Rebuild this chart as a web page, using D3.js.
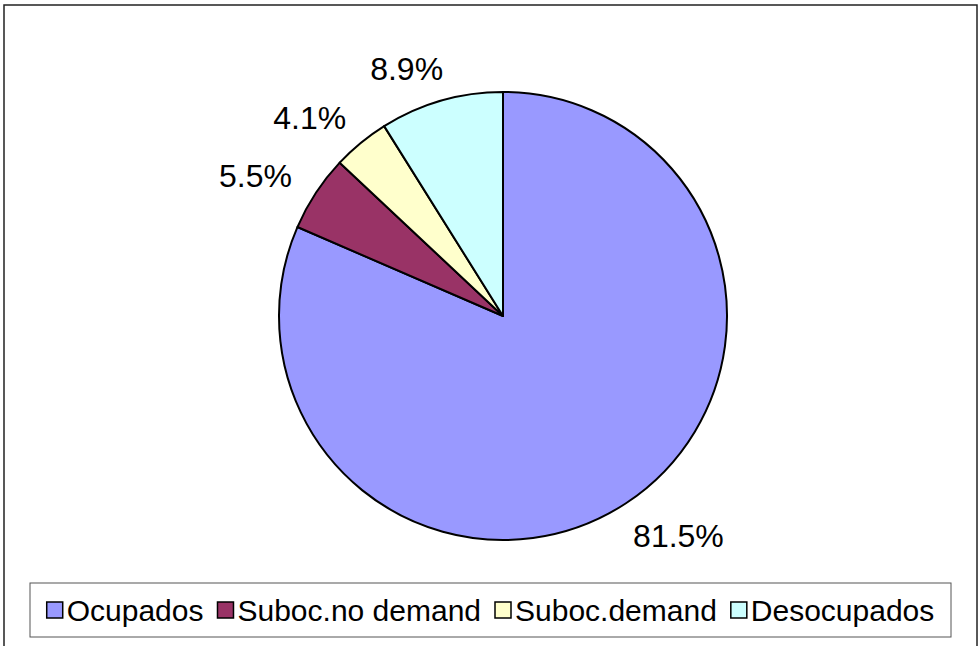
<!DOCTYPE html>
<html>
<head>
<meta charset="utf-8">
<script src="https://cdn.jsdelivr.net/npm/d3@7"></script>
<style>
  body { margin: 0; background: #fff; }
  text { font-family: "Liberation Sans", Arial, sans-serif; fill: #000; }
</style>
</head>
<body>
<script>
'use strict';

// chart data
const categories = ["Ocupados", "Suboc.no demand", "Suboc.demand", "Desocupados"];
const values = [81.5, 5.5, 4.1, 8.9];
const labels = ["81.5%", "5.5%", "4.1%", "8.9%"];
const colors = ["#9999FF", "#993366", "#FFFFCC", "#CCFFFF"];

const width = 979, height = 646;
const cx = 503, cy = 316, radius = 224;

const svg = d3.select("body").append("svg")
  .attr("width", width)
  .attr("height", height);

// outer chart frame
svg.append("rect")
  .attr("x", 4).attr("y", 5)
  .attr("width", 973).attr("height", 660)
  .attr("fill", "#fff")
  .attr("stroke", "#222")
  .attr("stroke-width", 1.5);

// pie, clockwise from 12 o'clock
let pie = d3.pie().sort(null).value(d => d);
let arcs = pie(values);
let arc = d3.arc().innerRadius(0).outerRadius(radius);

let g = svg.append("g").attr("transform", `translate(${cx},${cy})`);

g.selectAll("path")
  .data(arcs)
  .enter()
  .append("path")
    .attr("d", arc)
    .attr("fill", (d, i) => colors[i])
    .attr("stroke", "#000")
    .attr("stroke-width", 2)
    .attr("stroke-linejoin", "round");

// data labels outside the slices
const rx = 270, ry = 260;
g.selectAll(".lbl")
  .data(arcs)
  .enter()
  .append("text")
    .attr("class", "lbl")
    .style("font-size", "32px")
    .attr("text-anchor", "middle")
    .attr("dominant-baseline", "central")
    .text((d, i) => labels[i])
    .each(function(d) {
      let a = (d.startAngle + d.endAngle) / 2;
      let w = this.getComputedTextLength();
      let sx = Math.sin(a), sy = -Math.cos(a);
      d3.select(this)
        .attr("x", sx * rx + Math.sign(sx) * w * 0.3)
        .attr("y", sy * ry + 3);
    });

// legend
const legX = 30, legY = 583, legW = 921, legH = 54;
svg.append("rect")
  .attr("x", legX).attr("y", legY)
  .attr("width", legW).attr("height", legH)
  .attr("fill", "#fff")
  .attr("stroke", "#555")
  .attr("stroke-width", 1);

const keySize = 16, keyGap = 4, itemGap = 14;
let legend = svg.append("g");
let items = legend.selectAll("g")
  .data(categories)
  .enter()
  .append("g");

items.append("rect")
  .attr("width", keySize).attr("height", keySize)
  .attr("y", -keySize / 2)
  .attr("fill", (d, i) => colors[i])
  .attr("stroke", "#000")
  .attr("stroke-width", 1.5);

items.append("text")
  .attr("x", keySize + keyGap)
  .attr("dominant-baseline", "central")
  .style("font-size", "30px")
  .text(d => d);

// place items side by side and center them in the box
let xPos = 0;
items.each(function() {
  let tw = d3.select(this).select("text").node().getComputedTextLength();
  d3.select(this).attr("transform", `translate(${xPos},0)`);
  xPos += keySize + keyGap + tw + itemGap;
});
let total = xPos - itemGap;
legend.attr("transform", `translate(${legX + (legW - total) / 2},${legY + legH / 2})`);
</script>
</body>
</html>
